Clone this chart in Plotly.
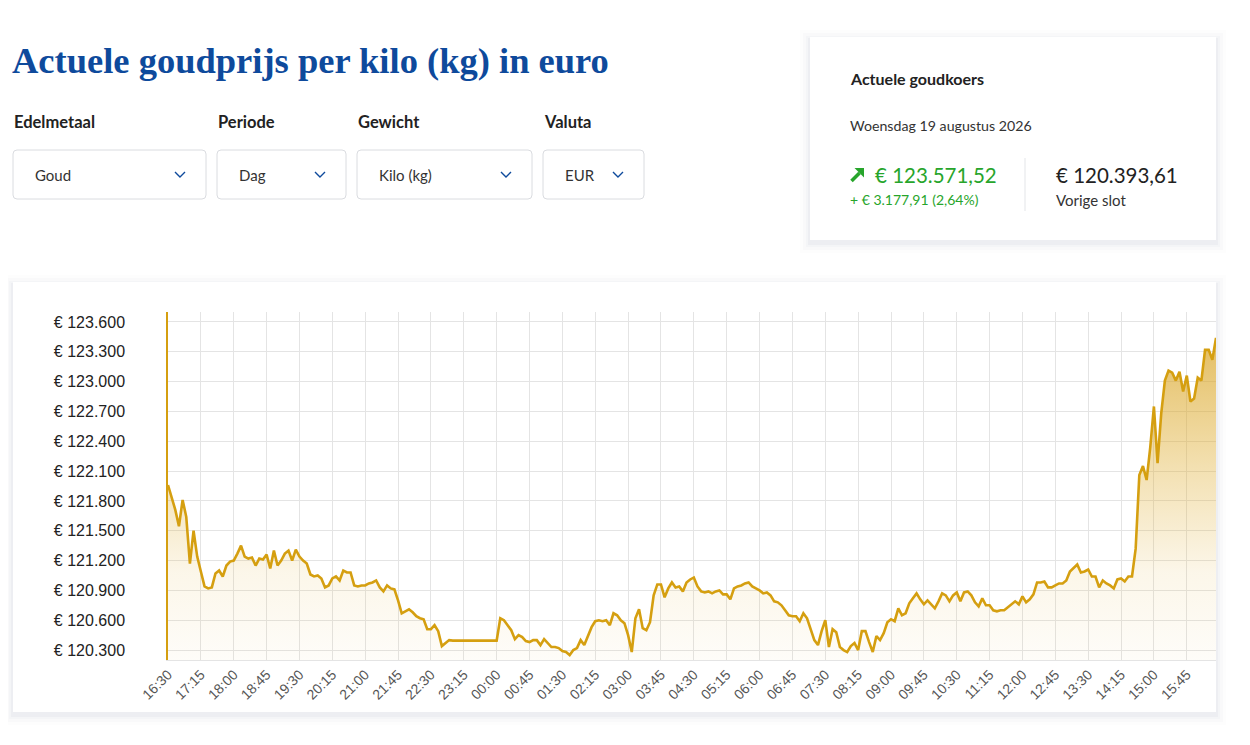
import pandas as pd
import plotly.graph_objects as go

# de pagina heeft 8px body-marge, dus figuur iets kleiner en alles 8px verschoven
OFF = 8
W, H = 1250 - OFF, 745 - OFF

# Goudprijs per kilo in euro, elke 5 minuten van 18-08 16:30 tot 19-08 16:25
start_tijd = "2026-08-18 16:30"
prijzen = [
    121960, 121840, 121710, 121545, 121810, 121640, 121170, 121500, 121240,
    121090, 120940, 120920, 120930, 121070, 121100, 121040, 121150, 121190,
    121200, 121270, 121350, 121240, 121220, 121230, 121150, 121220, 121210,
    121260, 121120, 121300, 121150, 121200, 121270, 121300, 121200, 121310,
    121240, 121200, 121170, 121060, 121040, 121050, 121020, 120930, 120950,
    121020, 121040, 121000, 121100, 121080, 121080, 120950, 120940, 120950,
    120950, 120970, 120980, 121000, 120930, 120890, 120950, 120920, 120910,
    120800, 120670, 120690, 120710, 120680, 120640, 120620, 120610, 120510,
    120510, 120550, 120490, 120340, 120370, 120400, 120395, 120395, 120395,
    120395, 120395, 120395, 120395, 120395, 120395, 120395, 120395, 120395,
    120395, 120620, 120600, 120550, 120500, 120410, 120450, 120430, 120390,
    120380, 120400, 120400, 120350, 120410, 120370, 120330, 120330, 120320,
    120290, 120280, 120250, 120300, 120320, 120400, 120350, 120440, 120530,
    120590, 120600, 120590, 120600, 120550, 120670, 120650, 120600, 120570,
    120450, 120280, 120620, 120710, 120520, 120500, 120580, 120850, 120960,
    120960, 120830, 120920, 120980, 120930, 120940, 120890, 120980, 121010,
    121030, 120940, 120890, 120880, 120890, 120870, 120890, 120900, 120860,
    120860, 120810, 120920, 120940, 120950, 120970, 120980, 120940, 120920,
    120900, 120870, 120880, 120850, 120790, 120780, 120750, 120700, 120650,
    120640, 120640, 120590, 120670, 120620, 120500, 120400, 120350, 120490,
    120600, 120330, 120510, 120480, 120330, 120300, 120280, 120340, 120370,
    120300, 120490, 120490, 120380, 120280, 120440, 120400, 120470, 120580,
    120610, 120590, 120720, 120650, 120670, 120770, 120820, 120870, 120810,
    120760, 120800, 120760, 120720, 120790, 120870, 120850, 120790, 120850,
    120880, 120790, 120880, 120890, 120850, 120780, 120740, 120820, 120750,
    120750, 120700, 120690, 120700, 120700, 120730, 120760, 120790, 120760,
    120840, 120780, 120810, 120860, 120980, 120980, 120990, 120930, 120930,
    120950, 120970, 120970, 121000, 121090, 121130, 121160, 121080, 121090,
    121110, 121040, 121040, 120930, 121000, 120970, 120950, 120920, 121010,
    121020, 120990, 121040, 121040, 121320, 122060, 122150, 122010, 122340,
    122750, 122180, 122680, 123010, 123110, 123090, 123010, 123100, 122900,
    123060, 122800, 122830, 123040, 123010, 123320, 123320, 123220, 123440,
]
tijden = pd.date_range(start_tijd, periods=len(prijzen), freq="5min")

filter_labels = ["Edelmetaal", "Periode", "Gewicht", "Valuta"]
filter_waarden = ["Goud", "Dag", "Kilo (kg)", "EUR"]

titel = "Actuele goudprijs per kilo (kg) in euro"
kaart_titel = "Actuele goudkoers"
kaart_datum = "Woensdag 19 augustus 2026"
koers_nu = "€ 123.571,52"
koers_verschil = "+ € 3.177,91 (2,64%)"
koers_vorig = "€ 120.393,61"

GOUD = "#d59f10"
BLAUW = "#0e4a9c"
GROEN = "#27a52b"
UI_FONT = "Lato"


def px(x):
    return (x - OFF) / W


def py(y):
    return 1 - (y - OFF) / H


def rond_rect(x0, y0, x1, y1, r=4):
    # afgeronde rechthoek als svg-pad in paper-coordinaten
    pts = [
        f"M{px(x0 + r)},{py(y0)}", f"L{px(x1 - r)},{py(y0)}",
        f"Q{px(x1)},{py(y0)} {px(x1)},{py(y0 + r)}", f"L{px(x1)},{py(y1 - r)}",
        f"Q{px(x1)},{py(y1)} {px(x1 - r)},{py(y1)}", f"L{px(x0 + r)},{py(y1)}",
        f"Q{px(x0)},{py(y1)} {px(x0)},{py(y1 - r)}", f"L{px(x0)},{py(y0 + r)}",
        f"Q{px(x0)},{py(y0)} {px(x0 + r)},{py(y0)}", "Z",
    ]
    return " ".join(pts)


fig = go.Figure()
fig.add_trace(go.Scatter(
    x=tijden, y=prijzen, mode="lines",
    line=dict(color=GOUD, width=2.6),
    fill="tozeroy",
    fillgradient=dict(
        type="vertical", start=120200, stop=123700,
        colorscale=[
            [0.0, "rgba(222,170,40,0.03)"],
            [0.25, "rgba(222,170,40,0.10)"],
            [0.55, "rgba(222,170,40,0.36)"],
            [1.0, "rgba(214,160,30,0.78)"],
        ],
    ),
    hoverinfo="x+y",
    showlegend=False,
))

shapes = []
# schaduw + kaarten
for (x0, y0, x1, y1) in [(13, 282, 1216, 712), (810, 37, 1216, 240)]:
    for d, a in [(10, 0.012), (7, 0.018), (4, 0.025), (2, 0.035)]:
        shapes.append(dict(type="rect", xref="paper", yref="paper",
                           x0=px(x0 - d), x1=px(x1 + d), y0=py(y0 - d + 3), y1=py(y1 + d + 3),
                           fillcolor=f"rgba(60,70,110,{a})", line=dict(width=0), layer="below"))
    shapes.append(dict(type="rect", xref="paper", yref="paper",
                       x0=px(x0), x1=px(x1), y0=py(y0), y1=py(y1),
                       fillcolor="white", line=dict(width=0), layer="below"))

# keuzevakken
vakken = [(13, 206), (217, 346), (357, 532), (543, 644)]
for (x0, x1) in vakken:
    shapes.append(dict(type="path", xref="paper", yref="paper",
                       path=rond_rect(x0, 150, x1, 199),
                       fillcolor="white", line=dict(color="#dadce0", width=1)))
    cx = x1 - 26
    shapes.append(dict(type="path", xref="paper", yref="paper",
                       path=f"M{px(cx - 5)},{py(172)} L{px(cx)},{py(177)} L{px(cx + 5)},{py(172)}",
                       line=dict(color=BLAUW, width=1.4)))

# pijltje omhoog naast de koers
shapes.append(dict(type="path", xref="paper", yref="paper",
                   path=f"M{px(854.5)},{py(168)} L{px(864)},{py(168)} L{px(864)},{py(177.5)} Z",
                   fillcolor=GROEN, line=dict(width=0)))
shapes.append(dict(type="line", xref="paper", yref="paper",
                   x0=px(851.5), y0=py(181), x1=px(859.5), y1=py(173),
                   line=dict(color=GROEN, width=3.6)))

# scheidingslijn in de kaart
shapes.append(dict(type="line", xref="paper", yref="paper",
                   x0=px(1025), x1=px(1025), y0=py(158), y1=py(211),
                   line=dict(color="#e3e5e8", width=1)))

annotations = []


def tekst(s, x, y, size, color, bold=False, family=UI_FONT):
    annotations.append(dict(
        text=s, x=px(x), y=py(y), xref="paper", yref="paper",
        xanchor="left", yanchor="middle", showarrow=False,
        font=dict(family=family, size=size, color=color, weight="bold" if bold else "normal"),
    ))


tekst(titel, 10, 60, 36.5, BLAUW, bold=True, family="Liberation Serif")
for lbl, val, (x0, x1) in zip(filter_labels, filter_waarden, vakken):
    tekst(lbl, x0 - 1, 122, 16.5, "#222222", bold=True)
    tekst(val, x0 + 20, 175, 15, "#333333")

tekst(kaart_titel, 848, 78, 16, "#222222", bold=True)
tekst(kaart_datum, 848, 126, 14.2, "#333333")
tekst(koers_nu, 873, 175, 20.5, GROEN)
tekst(koers_verschil, 848, 200, 14, GROEN)
tekst(koers_vorig, 1054, 175, 20.5, "#222222")
tekst("Vorige slot", 1054, 200, 15, "#333333")

fig.update_layout(
    width=W, height=H,
    margin=dict(l=0, r=0, t=0, b=0),
    paper_bgcolor="white", plot_bgcolor="rgba(0,0,0,0)",
    separators=",.",
    shapes=shapes, annotations=annotations,
    xaxis=dict(
        domain=[px(168), px(1216)],
        range=[tijden[0], tijden[-1]],
        type="date",
        tick0=start_tijd, dtick=45 * 60 * 1000, tickformat="%H:%M",
        tickangle=-45,
        tickfont=dict(family="Liberation Sans", size=14, color="#555555"),
        showgrid=True, gridcolor="#e4e4e4", gridwidth=1,
        showline=True, linecolor="#e4e4e4", linewidth=1,
        zeroline=False, ticks="", automargin=False,
    ),
    yaxis=dict(
        domain=[py(660), py(312)],
        range=[120200, 123700],
        tick0=120300, dtick=300,
        tickprefix="€ ", tickformat=",.0f",
        tickfont=dict(family="Liberation Sans", size=16, color="#222222"),
        ticklabelstandoff=38,
        showgrid=True, gridcolor="#e4e4e4", gridwidth=1,
        showline=True, linecolor=GOUD, linewidth=1.5,
        zeroline=False, ticks="", automargin=False,
    ),
)

fig.write_html("out.html")
